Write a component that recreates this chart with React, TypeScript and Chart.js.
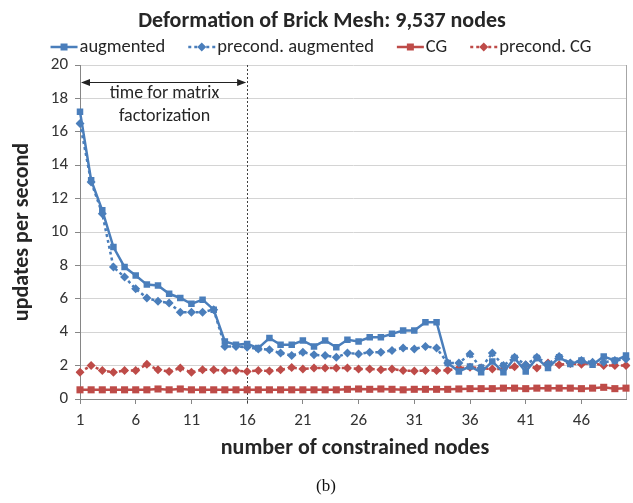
import { useEffect, useRef } from "react";
import { Chart, registerables } from "chart.js";

Chart.register(...registerables);

const categories = [
  "1","2","3","4","5","6","7","8","9","10",
  "11","12","13","14","15","16","17","18","19","20",
  "21","22","23","24","25","26","27","28","29","30",
  "31","32","33","34","35","36","37","38","39","40",
  "41","42","43","44","45","46","47","48","49","50",
];

const shownTickLabels = ["1", "6", "11", "16", "21", "26", "31", "36", "41", "46"];

const augmented = [
  17.2, 13.1, 11.3, 9.1, 7.9, 7.4, 6.85, 6.8, 6.3, 6.05,
  5.7, 5.95, 5.35, 3.45, 3.25, 3.3, 3.05, 3.65, 3.25, 3.25,
  3.5, 3.15, 3.5, 3.1, 3.55, 3.45, 3.7, 3.7, 3.9, 4.1,
  4.1, 4.6, 4.6, 2.15, 1.65, 1.95, 1.6, 2.25, 1.6, 2.45,
  1.65, 2.45, 1.85, 2.5, 2.1, 2.3, 2.05, 2.55, 2.3, 2.6,
];

const precondAugmented = [
  16.5, 13.0, 11.1, 7.9, 7.3, 6.6, 6.05, 5.85, 5.75, 5.2,
  5.2, 5.2, 5.35, 3.15, 3.15, 3.1, 3.0, 2.95, 2.75, 2.6,
  2.8, 2.65, 2.6, 2.5, 2.75, 2.7, 2.8, 2.8, 2.9, 3.05,
  3.0, 3.15, 3.05, 2.15, 2.15, 2.7, 1.85, 2.75, 2.0, 2.5,
  2.05, 2.5, 2.1, 2.55, 2.15, 2.3, 2.2, 2.2, 2.3, 2.4,
];

const cg = [
  0.55, 0.55, 0.55, 0.55, 0.55, 0.55, 0.55, 0.6, 0.55, 0.6,
  0.55, 0.55, 0.55, 0.55, 0.55, 0.55, 0.55, 0.55, 0.55, 0.55,
  0.55, 0.55, 0.55, 0.55, 0.58, 0.6, 0.58, 0.6, 0.58, 0.55,
  0.58, 0.58, 0.58, 0.58, 0.6, 0.62, 0.62, 0.62, 0.65, 0.65,
  0.62, 0.65, 0.65, 0.65, 0.65, 0.62, 0.65, 0.7, 0.62, 0.65,
];

const precondCg = [
  1.6, 2.0, 1.7, 1.6, 1.7, 1.7, 2.08, 1.75, 1.65, 1.85,
  1.6, 1.75, 1.75, 1.7, 1.7, 1.65, 1.7, 1.68, 1.75, 1.88,
  1.8, 1.85, 1.85, 1.85, 1.85, 1.8, 1.8, 1.75, 1.8, 1.7,
  1.68, 1.7, 1.7, 1.72, 1.85, 1.9, 1.85, 1.8, 1.8, 1.93,
  2.03, 1.85, 2.15, 2.05, 2.12, 2.08, 2.15, 2.0, 2.0, 2.0,
];

const seriesNames = ["augmented", "precond. augmented", "CG", "precond. CG"];

const BLUE = "#4a7ebb";
const RED = "#be4b48";
const FONT = "Carlito, Lato, 'Liberation Sans', sans-serif";
const DOT = [3, 3];

type LegendItem = { name: string; color: string; dashed: boolean; marker: "square" | "diamond" };

const legendItems: LegendItem[] = [
  { name: seriesNames[0], color: BLUE, dashed: false, marker: "square" },
  { name: seriesNames[1], color: BLUE, dashed: true, marker: "diamond" },
  { name: seriesNames[2], color: RED, dashed: false, marker: "square" },
  { name: seriesNames[3], color: RED, dashed: true, marker: "diamond" },
];

function drawMarker(ctx: CanvasRenderingContext2D, kind: string, x: number, y: number, color: string) {
  ctx.save();
  ctx.fillStyle = color;
  ctx.setLineDash([]);
  ctx.beginPath();
  if (kind === "square") {
    ctx.rect(x - 3.5, y - 3.5, 7, 7);
  } else {
    ctx.moveTo(x, y - 4.5);
    ctx.lineTo(x + 4.5, y);
    ctx.lineTo(x, y + 4.5);
    ctx.lineTo(x - 4.5, y);
    ctx.closePath();
  }
  ctx.fill();
  ctx.restore();
}

const decorPlugin = {
  id: "decor",
  beforeDatasetsDraw(chart: any) {
    const ctx: CanvasRenderingContext2D = chart.ctx;
    const xs = chart.scales.x;
    const ys = chart.scales.y;
    const area = chart.chartArea;
    const x1 = xs.getPixelForValue(0);
    const x16 = xs.getPixelForValue(15);
    ctx.save();
    // right border of plot area
    ctx.strokeStyle = "#a6a6a6";
    ctx.lineWidth = 1;
    ctx.beginPath();
    ctx.moveTo(Math.round(area.right) + 0.5, area.top);
    ctx.lineTo(Math.round(area.right) + 0.5, area.bottom);
    ctx.stroke();
    // dashed vertical line
    ctx.strokeStyle = "#404040";
    ctx.setLineDash([2, 2]);
    ctx.beginPath();
    ctx.moveTo(Math.round(x16) + 0.5, area.top);
    ctx.lineTo(Math.round(x16) + 0.5, area.bottom + 4);
    ctx.stroke();
    ctx.setLineDash([]);
    // arrow
    const ya = Math.round(ys.getPixelForValue(19)) + 0.5;
    ctx.strokeStyle = "#222";
    ctx.fillStyle = "#222";
    ctx.beginPath();
    ctx.moveTo(x1 + 2, ya);
    ctx.lineTo(x16 - 2, ya);
    ctx.stroke();
    ctx.beginPath();
    ctx.moveTo(x1 + 1, ya);
    ctx.lineTo(x1 + 10, ya - 3.5);
    ctx.lineTo(x1 + 10, ya + 3.5);
    ctx.closePath();
    ctx.fill();
    ctx.beginPath();
    ctx.moveTo(x16 - 1, ya);
    ctx.lineTo(x16 - 10, ya - 3.5);
    ctx.lineTo(x16 - 10, ya + 3.5);
    ctx.closePath();
    ctx.fill();
    // annotation text
    ctx.font = `18px ${FONT}`;
    ctx.fillStyle = "#262626";
    ctx.textAlign = "center";
    ctx.textBaseline = "middle";
    const cx = (x1 + x16) / 2 + 1;
    ctx.fillText("time for matrix", cx, 93);
    ctx.fillText("factorization", cx, 116);
    ctx.restore();
  },
  afterDraw(chart: any) {
    const ctx: CanvasRenderingContext2D = chart.ctx;
    const area = chart.chartArea;
    ctx.save();
    ctx.fillStyle = "#262626";
    ctx.textAlign = "center";
    ctx.textBaseline = "middle";
    // title
    ctx.font = `bold 22px ${FONT}`;
    ctx.fillText("Deformation of Brick Mesh: 9,537 nodes", 322, 21);
    // legend
    ctx.font = `18.5px ${FONT}`;
    const seg = 27;
    const gapText = 2;
    const gapItem = 23;
    const widths = legendItems.map((it) => ctx.measureText(it.name).width);
    let total = 0;
    widths.forEach((w, i) => {
      total += seg + gapText + w + (i < widths.length - 1 ? gapItem : 0);
    });
    let lx = 321 - total / 2;
    const ly = 47;
    legendItems.forEach((it, i) => {
      ctx.save();
      ctx.strokeStyle = it.color;
      ctx.lineWidth = 2.5;
      ctx.setLineDash(it.dashed ? DOT : []);
      ctx.beginPath();
      ctx.moveTo(lx, ly);
      ctx.lineTo(lx + seg, ly);
      ctx.stroke();
      ctx.restore();
      drawMarker(ctx, it.marker, lx + seg / 2, ly, it.color);
      ctx.fillStyle = "#262626";
      ctx.textAlign = "left";
      ctx.fillText(it.name, lx + seg + gapText, ly);
      lx += seg + gapText + widths[i] + gapItem;
    });
    // axis titles
    ctx.textAlign = "center";
    ctx.font = `bold 22px ${FONT}`;
    ctx.fillText("number of constrained nodes", (area.left + area.right) / 2 + 2, 448);
    ctx.save();
    ctx.translate(22, (area.top + area.bottom) / 2);
    ctx.rotate(-Math.PI / 2);
    ctx.fillText("updates per second", 0, 0);
    ctx.restore();
    // caption
    ctx.font = `17px 'Liberation Serif', 'Times New Roman', serif`;
    ctx.fillStyle = "#111";
    ctx.fillText("(b)", 326, 487);
    ctx.restore();
  },
};

export default function App() {
  const ref = useRef<HTMLCanvasElement | null>(null);

  useEffect(() => {
    if (!ref.current) return;
    const chart = new Chart(ref.current, {
      type: "line",
      data: {
        labels: categories,
        datasets: [
          {
            label: seriesNames[0],
            data: augmented,
            borderColor: BLUE,
            backgroundColor: BLUE,
            borderWidth: 2.5,
            pointStyle: "rect",
            pointRadius: 4.6,
            pointBorderWidth: 0,
            pointBackgroundColor: BLUE,
            tension: 0,
          },
          {
            label: seriesNames[1],
            data: precondAugmented,
            borderColor: BLUE,
            backgroundColor: BLUE,
            borderWidth: 2.5,
            borderDash: DOT,
            pointStyle: "rectRot",
            pointRadius: 4.5,
            pointBorderWidth: 0,
            pointBackgroundColor: BLUE,
            tension: 0,
          },
          {
            label: seriesNames[2],
            data: cg,
            borderColor: RED,
            backgroundColor: RED,
            borderWidth: 2.5,
            pointStyle: "rect",
            pointRadius: 5,
            pointBorderWidth: 0,
            pointBackgroundColor: RED,
            tension: 0,
          },
          {
            label: seriesNames[3],
            data: precondCg,
            borderColor: RED,
            backgroundColor: RED,
            borderWidth: 2.5,
            borderDash: DOT,
            pointStyle: "rectRot",
            pointRadius: 4.5,
            pointBorderWidth: 0,
            pointBackgroundColor: RED,
            tension: 0,
          },
        ],
      },
      options: {
        responsive: false,
        animation: false,
        devicePixelRatio: 1,
        layout: { padding: { top: 65, right: 4, left: 0, bottom: 0 } },
        plugins: {
          legend: { display: false },
          title: { display: false },
          tooltip: { enabled: false },
        },
        scales: {
          x: {
            type: "category",
            offset: false,
            afterFit: (scale: any) => {
              scale.height = 104;
            },
            grid: {
              drawOnChartArea: false,
              drawTicks: true,
              tickLength: 5,
              color: (c: any) => (c.index % 5 === 0 ? "#868686" : "transparent"),
            },
            border: { display: true, color: "#868686", width: 1 },
            ticks: {
              autoSkip: false,
              maxRotation: 0,
              minRotation: 0,
              padding: 7,
              color: "#333",
              font: { family: FONT, size: 17 },
              callback: (_v: any, i: number) =>
                shownTickLabels.includes(categories[i]) ? categories[i] : "",
            },
          },
          y: {
            min: 0,
            max: 20,
            afterFit: (scale: any) => {
              scale.width = 80;
            },
            grid: {
              color: "#d4d4d4",
              tickColor: "#868686",
              tickLength: 5,
              lineWidth: 1,
            },
            border: { display: true, color: "#868686", width: 1 },
            ticks: {
              stepSize: 2,
              padding: 7,
              color: "#333",
              font: { family: FONT, size: 17 },
            },
          },
        },
      },
      plugins: [decorPlugin],
    });
    return () => chart.destroy();
  }, []);

  return (
    <canvas
      ref={ref}
      width={633}
      height={503}
      style={{ position: "fixed", left: 0, top: 0, width: 633, height: 503, display: "block" }}
    />
  );
}
